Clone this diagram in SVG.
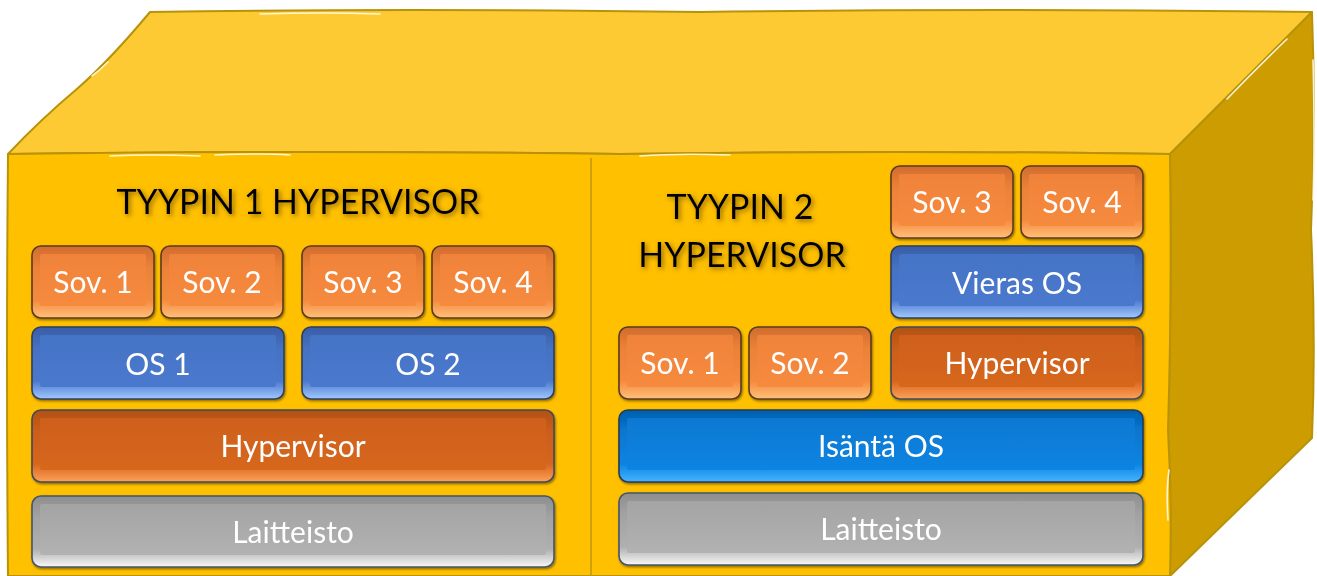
<svg xmlns="http://www.w3.org/2000/svg" width="1317" height="576" viewBox="0 0 1317 576">
  <defs>
    <style>
      .edge-line{stroke:#b8930a;stroke-width:2;stroke-linejoin:round}
      .top-face{fill:#fdca34}
      .right-face{fill:#cc9c00}
      .front-face{fill:#ffc000}
      .hl{fill:none;stroke:#fffbe8;stroke-width:1.6;stroke-linecap:round;opacity:.9}
      .node{filter:url(#btnShadow)}
      .node .edge{stroke-width:1.6}
      .node text{font-family:Lato,"Open Sans","Liberation Sans",sans-serif;font-size:30px;fill:#ffffff;text-anchor:middle}
      .sov .edge{fill:url(#eSov);stroke:#5b3b1e}
      .sov .face{fill:url(#fSov)}
      .os .edge{fill:url(#eOs);stroke:#2f3f5a}
      .os .face{fill:url(#fOs)}
      .hyp .edge{fill:url(#eHyp);stroke:#3f4a5a}
      .hyp .face{fill:url(#fHyp)}
      .hw .edge{fill:url(#eHw);stroke:#44546a}
      .hw .face{fill:url(#fHw)}
      .host .edge{fill:url(#eHost);stroke:#2a3a50}
      .host .face{fill:url(#fHost)}
      .title{font-family:Lato,"Open Sans","Liberation Sans",sans-serif;font-size:34px;fill:#000000;text-anchor:middle;filter:url(#titleGlow)}
    </style>
    <linearGradient id="eSov" x1="0" y1="0" x2="0" y2="1">
      <stop offset="0" stop-color="#d06c2e"/><stop offset="0.3" stop-color="#ec8238"/><stop offset="0.75" stop-color="#f48a3c"/><stop offset="1" stop-color="#ffc07c"/>
    </linearGradient>
    <linearGradient id="fSov" x1="0" y1="0" x2="0" y2="1">
      <stop offset="0" stop-color="#f0833a"/><stop offset="1" stop-color="#f68a3d"/>
    </linearGradient>
    <linearGradient id="eOs" x1="0" y1="0" x2="0" y2="1">
      <stop offset="0" stop-color="#3a5da6"/><stop offset="0.3" stop-color="#4572c2"/><stop offset="0.75" stop-color="#4a78cc"/><stop offset="1" stop-color="#a2c8ff"/>
    </linearGradient>
    <linearGradient id="fOs" x1="0" y1="0" x2="0" y2="1">
      <stop offset="0" stop-color="#4473c5"/><stop offset="1" stop-color="#4a79ce"/>
    </linearGradient>
    <linearGradient id="eHyp" x1="0" y1="0" x2="0" y2="1">
      <stop offset="0" stop-color="#b05214"/><stop offset="0.3" stop-color="#cc5e1a"/><stop offset="0.75" stop-color="#d6661e"/><stop offset="1" stop-color="#ffa058"/>
    </linearGradient>
    <linearGradient id="fHyp" x1="0" y1="0" x2="0" y2="1">
      <stop offset="0" stop-color="#cf601a"/><stop offset="1" stop-color="#d6671e"/>
    </linearGradient>
    <linearGradient id="eHw" x1="0" y1="0" x2="0" y2="1">
      <stop offset="0" stop-color="#8e8e8e"/><stop offset="0.3" stop-color="#a2a2a2"/><stop offset="0.75" stop-color="#b0b0b0"/><stop offset="1" stop-color="#f8f8f8"/>
    </linearGradient>
    <linearGradient id="fHw" x1="0" y1="0" x2="0" y2="1">
      <stop offset="0" stop-color="#a4a4a4"/><stop offset="1" stop-color="#b2b2b2"/>
    </linearGradient>
    <linearGradient id="eHost" x1="0" y1="0" x2="0" y2="1">
      <stop offset="0" stop-color="#0060b0"/><stop offset="0.3" stop-color="#0976ce"/><stop offset="0.75" stop-color="#0c84e2"/><stop offset="1" stop-color="#46b4ff"/>
    </linearGradient>
    <linearGradient id="fHost" x1="0" y1="0" x2="0" y2="1">
      <stop offset="0" stop-color="#0a78d2"/><stop offset="1" stop-color="#0c84e2"/>
    </linearGradient>
    <filter id="btnShadow" x="-10%" y="-20%" width="120%" height="150%">
      <feDropShadow dx="1" dy="1.5" stdDeviation="1.2" flood-color="#000" flood-opacity="0.45"/>
    </filter>
    <filter id="titleGlow" x="-10%" y="-40%" width="120%" height="180%">
      <feGaussianBlur in="SourceAlpha" stdDeviation="2.5" result="b"/>
      <feOffset in="b" dx="2" dy="2" result="o"/>
      <feFlood flood-color="#6b4a00" flood-opacity="0.75"/>
      <feComposite in2="o" operator="in" result="s"/>
      <feMerge><feMergeNode in="s"/><feMergeNode in="SourceGraphic"/></feMerge>
    </filter>
  </defs>

  <!-- cube body -->
  <g id="cube">
    <path id="cube-top" class="top-face edge-line"
      d="M8,154 Q40,120 78,88 Q110,60 150,12 Q400,8 700,12 Q1000,8 1312,12 L1170,154 Q900,150 620,154 Q300,150 8,154 Z"/>
    <path id="cube-right" class="right-face edge-line"
      d="M1170,154 L1312,12 Q1316,120 1311,230 Q1316,340 1312,438 L1170,576 Q1172,500 1168,430 Q1172,300 1170,154 Z"/>
    <path id="cube-front" class="front-face edge-line"
      d="M8,154 Q300,150 620,154 Q900,150 1170,154 Q1172,300 1168,430 Q1172,500 1170,576 L8,576 Q6,360 8,154 Z"/>
    <!-- sketchy edge highlights -->
    <path class="hl" d="M110,156 Q150,154 200,156"/>
    <path class="hl" d="M215,155 Q260,153 290,155"/>
    <path class="hl" d="M640,156 Q680,153 730,155"/>
    <path class="hl" d="M92,76 Q100,70 108,62"/>
    <path class="hl" d="M260,14 Q320,12 380,14"/>
    <path class="hl" d="M1227,99 Q1255,70 1287,39"/>
    <path class="hl" d="M1169,470 Q1166,490 1168,520"/>
    <path class="hl" d="M1313,60 Q1315,140 1313,200"/>
    <line x1="591" y1="158" x2="591" y2="576" stroke="#c29a10" stroke-width="1.6"/>
  </g>

  <!-- titles -->
  <g id="title-type1"><text class="title" x="298" y="214">TYYPIN 1 HYPERVISOR</text></g>
  <g id="title-type2">
    <text class="title" x="740" y="219">TYYPIN 2</text>
    <text class="title" x="742" y="267">HYPERVISOR</text>
  </g>

  <!-- type 1 stack -->
  <g id="t1-sov1" class="node sov" transform="translate(32,246)">
    <rect class="edge" width="122" height="72" rx="9"/><rect class="face" x="8" y="8" width="106" height="52" rx="2"/><text x="61" y="47">Sov. 1</text>
  </g>
  <g id="t1-sov2" class="node sov" transform="translate(161,246)">
    <rect class="edge" width="122" height="72" rx="9"/><rect class="face" x="8" y="8" width="106" height="52" rx="2"/><text x="61" y="47">Sov. 2</text>
  </g>
  <g id="t1-sov3" class="node sov" transform="translate(302,246)">
    <rect class="edge" width="122" height="72" rx="9"/><rect class="face" x="8" y="8" width="106" height="52" rx="2"/><text x="61" y="47">Sov. 3</text>
  </g>
  <g id="t1-sov4" class="node sov" transform="translate(432,246)">
    <rect class="edge" width="122" height="72" rx="9"/><rect class="face" x="8" y="8" width="106" height="52" rx="2"/><text x="61" y="47">Sov. 4</text>
  </g>
  <g id="t1-os1" class="node os" transform="translate(32,327)">
    <rect class="edge" width="252" height="72" rx="9"/><rect class="face" x="8" y="8" width="236" height="52" rx="2"/><text x="126" y="48">OS 1</text>
  </g>
  <g id="t1-os2" class="node os" transform="translate(302,327)">
    <rect class="edge" width="252" height="72" rx="9"/><rect class="face" x="8" y="8" width="236" height="52" rx="2"/><text x="126" y="48">OS 2</text>
  </g>
  <g id="t1-hypervisor" class="node hyp" transform="translate(32,410)">
    <rect class="edge" width="522" height="72" rx="9"/><rect class="face" x="8" y="8" width="506" height="52" rx="2"/><text x="261" y="47">Hypervisor</text>
  </g>
  <g id="t1-hardware" class="node hw" transform="translate(32,496)">
    <rect class="edge" width="522" height="71" rx="9"/><rect class="face" x="8" y="8" width="506" height="51" rx="2"/><text x="261" y="47">Laitteisto</text>
  </g>

  <!-- type 2 stack -->
  <g id="t2-sov3" class="node sov" transform="translate(891,166)">
    <rect class="edge" width="122" height="72" rx="9"/><rect class="face" x="8" y="8" width="106" height="52" rx="2"/><text x="61" y="47">Sov. 3</text>
  </g>
  <g id="t2-sov4" class="node sov" transform="translate(1021,166)">
    <rect class="edge" width="122" height="72" rx="9"/><rect class="face" x="8" y="8" width="106" height="52" rx="2"/><text x="61" y="47">Sov. 4</text>
  </g>
  <g id="t2-guest-os" class="node os" transform="translate(891,246)">
    <rect class="edge" width="252" height="72" rx="9"/><rect class="face" x="8" y="8" width="236" height="52" rx="2"/><text x="126" y="48">Vieras OS</text>
  </g>
  <g id="t2-sov1" class="node sov" transform="translate(619,327)">
    <rect class="edge" width="122" height="72" rx="9"/><rect class="face" x="8" y="8" width="106" height="52" rx="2"/><text x="61" y="47">Sov. 1</text>
  </g>
  <g id="t2-sov2" class="node sov" transform="translate(749,327)">
    <rect class="edge" width="122" height="72" rx="9"/><rect class="face" x="8" y="8" width="106" height="52" rx="2"/><text x="61" y="47">Sov. 2</text>
  </g>
  <g id="t2-hypervisor" class="node hyp" transform="translate(891,327)">
    <rect class="edge" width="252" height="72" rx="9"/><rect class="face" x="8" y="8" width="236" height="52" rx="2"/><text x="126" y="47">Hypervisor</text>
  </g>
  <g id="t2-host-os" class="node host" transform="translate(619,410)">
    <rect class="edge" width="524" height="72" rx="9"/><rect class="face" x="8" y="8" width="508" height="52" rx="2"/><text x="262" y="47">Isäntä OS</text>
  </g>
  <g id="t2-hardware" class="node hw" transform="translate(619,493)">
    <rect class="edge" width="524" height="72" rx="9"/><rect class="face" x="8" y="8" width="508" height="52" rx="2"/><text x="262" y="47">Laitteisto</text>
  </g>

  <!-- no connectors in this layered stack -->
  <g id="connectors"/>
</svg>
